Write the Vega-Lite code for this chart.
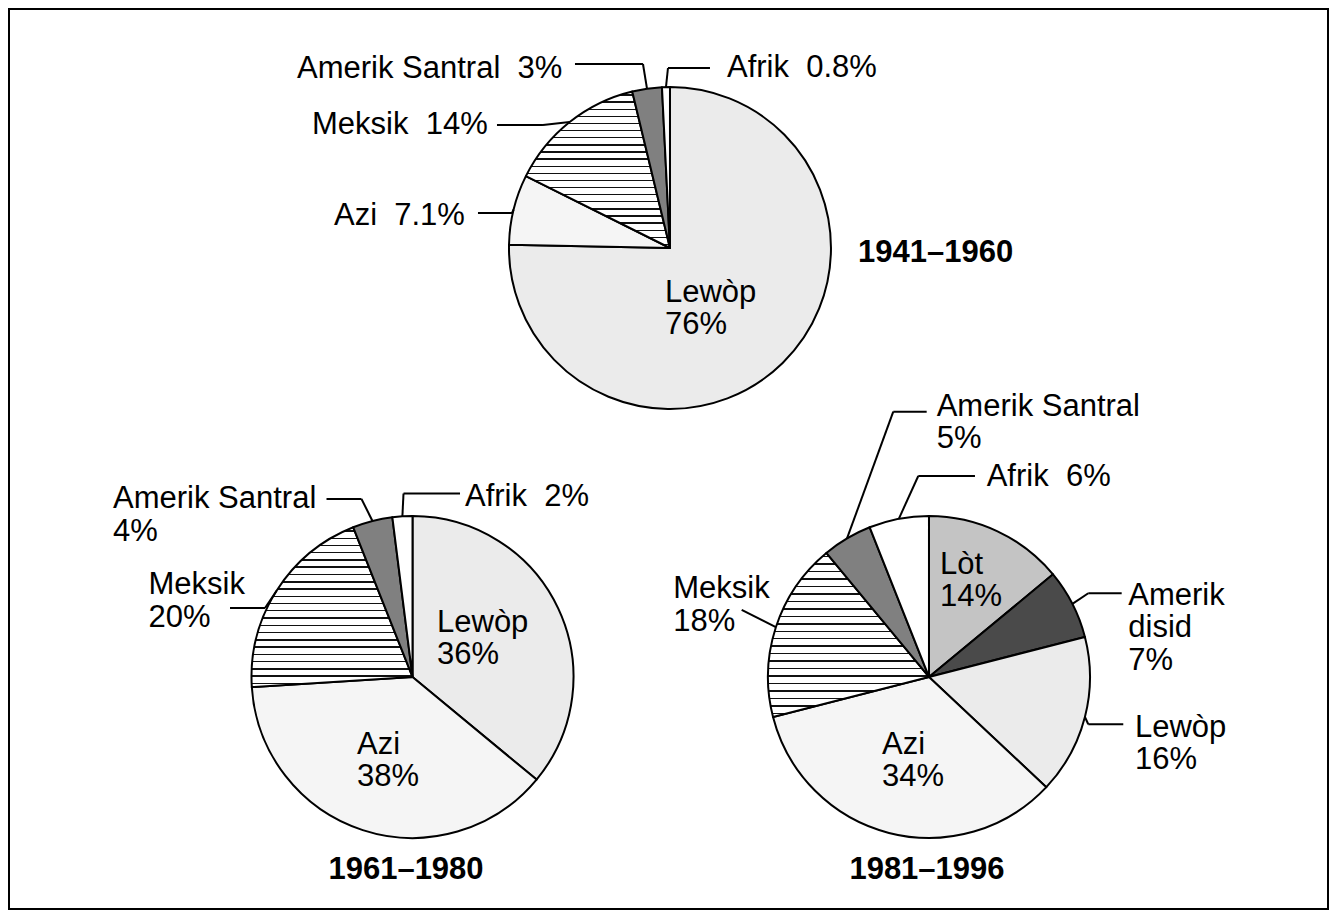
{
  "$schema": "https://vega.github.io/schema/vega-lite/v6.json",
  "width": 1319,
  "height": 900,
  "padding": 9,
  "autosize": {"type": "none"},
  "background": "white",
  "view": {"stroke": "black", "strokeWidth": 2},
  "params": [
    {"name": "stripes", "value": {"gradient": "linear", "x1": 0, "y1": 0, "x2": 0, "y2": 1, "stops": [
      {"offset": 0, "color": "#fff"},
      {"offset": 0.018, "color": "#fff"}, {"offset": 0.018, "color": "#111"}, {"offset": 0.027, "color": "#111"}, {"offset": 0.027, "color": "#fff"},
      {"offset": 0.064, "color": "#fff"}, {"offset": 0.064, "color": "#111"}, {"offset": 0.073, "color": "#111"}, {"offset": 0.073, "color": "#fff"},
      {"offset": 0.109, "color": "#fff"}, {"offset": 0.109, "color": "#111"}, {"offset": 0.118, "color": "#111"}, {"offset": 0.118, "color": "#fff"},
      {"offset": 0.154, "color": "#fff"}, {"offset": 0.154, "color": "#111"}, {"offset": 0.164, "color": "#111"}, {"offset": 0.164, "color": "#fff"},
      {"offset": 0.2, "color": "#fff"}, {"offset": 0.2, "color": "#111"}, {"offset": 0.209, "color": "#111"}, {"offset": 0.209, "color": "#fff"},
      {"offset": 0.245, "color": "#fff"}, {"offset": 0.245, "color": "#111"}, {"offset": 0.255, "color": "#111"}, {"offset": 0.255, "color": "#fff"},
      {"offset": 0.291, "color": "#fff"}, {"offset": 0.291, "color": "#111"}, {"offset": 0.3, "color": "#111"}, {"offset": 0.3, "color": "#fff"},
      {"offset": 0.336, "color": "#fff"}, {"offset": 0.336, "color": "#111"}, {"offset": 0.346, "color": "#111"}, {"offset": 0.346, "color": "#fff"},
      {"offset": 0.382, "color": "#fff"}, {"offset": 0.382, "color": "#111"}, {"offset": 0.391, "color": "#111"}, {"offset": 0.391, "color": "#fff"},
      {"offset": 0.427, "color": "#fff"}, {"offset": 0.427, "color": "#111"}, {"offset": 0.437, "color": "#111"}, {"offset": 0.437, "color": "#fff"},
      {"offset": 0.473, "color": "#fff"}, {"offset": 0.473, "color": "#111"}, {"offset": 0.482, "color": "#111"}, {"offset": 0.482, "color": "#fff"},
      {"offset": 0.518, "color": "#fff"}, {"offset": 0.518, "color": "#111"}, {"offset": 0.527, "color": "#111"}, {"offset": 0.527, "color": "#fff"},
      {"offset": 0.564, "color": "#fff"}, {"offset": 0.564, "color": "#111"}, {"offset": 0.573, "color": "#111"}, {"offset": 0.573, "color": "#fff"},
      {"offset": 0.609, "color": "#fff"}, {"offset": 0.609, "color": "#111"}, {"offset": 0.618, "color": "#111"}, {"offset": 0.618, "color": "#fff"},
      {"offset": 0.654, "color": "#fff"}, {"offset": 0.654, "color": "#111"}, {"offset": 0.664, "color": "#111"}, {"offset": 0.664, "color": "#fff"},
      {"offset": 0.7, "color": "#fff"}, {"offset": 0.7, "color": "#111"}, {"offset": 0.709, "color": "#111"}, {"offset": 0.709, "color": "#fff"},
      {"offset": 0.745, "color": "#fff"}, {"offset": 0.745, "color": "#111"}, {"offset": 0.755, "color": "#111"}, {"offset": 0.755, "color": "#fff"},
      {"offset": 0.791, "color": "#fff"}, {"offset": 0.791, "color": "#111"}, {"offset": 0.8, "color": "#111"}, {"offset": 0.8, "color": "#fff"},
      {"offset": 0.836, "color": "#fff"}, {"offset": 0.836, "color": "#111"}, {"offset": 0.846, "color": "#111"}, {"offset": 0.846, "color": "#fff"},
      {"offset": 0.882, "color": "#fff"}, {"offset": 0.882, "color": "#111"}, {"offset": 0.891, "color": "#111"}, {"offset": 0.891, "color": "#fff"},
      {"offset": 0.927, "color": "#fff"}, {"offset": 0.927, "color": "#111"}, {"offset": 0.937, "color": "#111"}, {"offset": 0.937, "color": "#fff"},
      {"offset": 0.973, "color": "#fff"}, {"offset": 0.973, "color": "#111"}, {"offset": 0.982, "color": "#111"}, {"offset": 0.982, "color": "#fff"},
      {"offset": 1, "color": "#fff"}
    ]}}
  ],
  "data": {"values": [
    {"period": "1941–1960", "cat": "Lewòp", "value": 76, "order": 1, "label": "Lewòp\n76%"},
    {"period": "1941–1960", "cat": "Azi", "value": 7.1, "order": 2, "label": "Azi\u00a0 7.1%"},
    {"period": "1941–1960", "cat": "Meksik", "value": 14, "order": 3, "label": "Meksik\u00a0 14%"},
    {"period": "1941–1960", "cat": "Amerik Santral", "value": 3, "order": 4, "label": "Amerik Santral\u00a0 3%"},
    {"period": "1941–1960", "cat": "Afrik", "value": 0.8, "order": 5, "label": "Afrik\u00a0 0.8%"},
    {"period": "1961–1980", "cat": "Lewòp", "value": 36, "order": 1, "label": "Lewòp\n36%"},
    {"period": "1961–1980", "cat": "Azi", "value": 38, "order": 2, "label": "Azi\n38%"},
    {"period": "1961–1980", "cat": "Meksik", "value": 20, "order": 3, "label": "Meksik\n20%"},
    {"period": "1961–1980", "cat": "Amerik Santral", "value": 4, "order": 4, "label": "Amerik Santral\n4%"},
    {"period": "1961–1980", "cat": "Afrik", "value": 2, "order": 5, "label": "Afrik\u00a0 2%"},
    {"period": "1981–1996", "cat": "Lòt", "value": 14, "order": 1, "label": "Lòt\n14%"},
    {"period": "1981–1996", "cat": "Amerik disid", "value": 7, "order": 2, "label": "Amerik\ndisid\n7%"},
    {"period": "1981–1996", "cat": "Lewòp", "value": 16, "order": 3, "label": "Lewòp\n16%"},
    {"period": "1981–1996", "cat": "Azi", "value": 34, "order": 4, "label": "Azi\n34%"},
    {"period": "1981–1996", "cat": "Meksik", "value": 18, "order": 5, "label": "Meksik\n18%"},
    {"period": "1981–1996", "cat": "Amerik Santral", "value": 5, "order": 6, "label": "Amerik Santral\n5%"},
    {"period": "1981–1996", "cat": "Afrik", "value": 6, "order": 7, "label": "Afrik\u00a0 6%"}
  ]},
  "transform": [
    {"stack": "value", "groupby": ["period"], "sort": [{"field": "order", "order": "ascending"}], "as": ["v0", "v1"], "offset": "normalize"}
  ],
  "layer": [
    {
      "transform": [{"filter": "datum.period === '1941–1960'"}],
      "encoding": {
        "x": {"field": "period", "type": "nominal", "axis": null, "scale": {"type": "band", "domain": ["1961–1980", "1941–1960", "1981–1996"], "paddingInner": 0, "paddingOuter": 1, "align": 0.5028}},
        "y": {"field": "period", "type": "nominal", "axis": null, "scale": {"type": "point", "domain": ["1941–1960", "1961–1980"], "padding": 0.549, "align": 0.5074}}
      },
      "layer": [
        {
          "mark": {"type": "arc", "outerRadius": 161, "stroke": "black", "strokeWidth": 2, "strokeJoin": "round"},
          "encoding": {
            "theta": {"field": "v0", "type": "quantitative", "scale": {"domain": [0, 1]}},
            "theta2": {"field": "v1"},
            "fill": {"condition": {"test": "datum.cat === 'Meksik'", "value": {"expr": "stripes"}}, "field": "cat", "type": "nominal", "legend": null,
              "scale": {"domain": ["Lewòp", "Azi", "Meksik", "Amerik Santral", "Afrik", "Lòt", "Amerik disid"], "range": ["#ebebeb", "#f5f5f5", "#ffffff", "#808080", "#ffffff", "#c4c4c4", "#4a4a4a"]}}
          }
        },
        {
          "transform": [{"filter": "datum.cat !== 'Lewòp'"}],
          "mark": {"type": "rule", "stroke": "black", "strokeWidth": 2,
            "xOffset": {"expr": "161*sin(PI*(datum.v0+datum.v1))"},
            "yOffset": {"expr": "-161*cos(PI*(datum.v0+datum.v1))"},
            "x2Offset": {"expr": "datum.cat==='Azi'?-158:datum.cat==='Meksik'?-127:datum.cat==='Amerik Santral'?-27:-2"},
            "y2Offset": {"expr": "datum.cat==='Azi'?-35:datum.cat==='Meksik'?-123:datum.cat==='Amerik Santral'?-184:-180"}},
          "encoding": {"x2": {"field": "period"}, "y2": {"field": "period"}}
        },
        {
          "transform": [{"filter": "datum.cat !== 'Lewòp'"}],
          "mark": {"type": "rule", "stroke": "black", "strokeWidth": 2,
            "xOffset": {"expr": "datum.cat==='Azi'?-158:datum.cat==='Meksik'?-127:datum.cat==='Amerik Santral'?-27:-2"},
            "yOffset": {"expr": "datum.cat==='Azi'?-35:datum.cat==='Meksik'?-123:datum.cat==='Amerik Santral'?-184:-180"},
            "x2Offset": {"expr": "datum.cat==='Azi'?-192:datum.cat==='Meksik'?-173:datum.cat==='Amerik Santral'?-95:40"},
            "y2Offset": {"expr": "datum.cat==='Azi'?-35:datum.cat==='Meksik'?-123:datum.cat==='Amerik Santral'?-184:-180"}},
          "encoding": {"x2": {"field": "period"}, "y2": {"field": "period"}}
        },
        {
          "mark": {"type": "text", "align": "left", "baseline": "middle", "fontSize": 31, "font": "Liberation Sans", "lineBreak": "\n", "lineHeight": 32.5, "color": "black",
            "xOffset": {"expr": "datum.cat==='Lewòp'?-5:datum.cat==='Azi'?-336:datum.cat==='Meksik'?-358:datum.cat==='Amerik Santral'?-373:57"},
            "yOffset": {"expr": "datum.cat==='Lewòp'?45:datum.cat==='Azi'?-32:datum.cat==='Meksik'?-123:datum.cat==='Amerik Santral'?-178.5:-180"}},
          "encoding": {"text": {"field": "label", "type": "nominal"}}
        },
        {
          "transform": [{"aggregate": [], "groupby": ["period"]}],
          "mark": {"type": "text", "align": "left", "baseline": "middle", "fontSize": 31, "fontWeight": "bold", "font": "Liberation Sans", "color": "black", "xOffset": 188, "yOffset": 5},
          "encoding": {"text": {"field": "period", "type": "nominal"}}
        }
      ]
    },
    {
      "transform": [{"filter": "datum.period === '1961–1980'"}],
      "encoding": {
        "x": {"field": "period", "type": "nominal", "axis": null, "scale": {"type": "band", "domain": ["1961–1980", "1941–1960", "1981–1996"], "paddingInner": 0, "paddingOuter": 1, "align": 0.5148}},
        "y": {"field": "period", "type": "nominal", "axis": null, "scale": {"type": "point", "domain": ["1941–1960", "1961–1980"], "padding": 0.549, "align": 0.5074}}
      },
      "layer": [
        {
          "mark": {"type": "arc", "outerRadius": 161, "stroke": "black", "strokeWidth": 2, "strokeJoin": "round"},
          "encoding": {
            "theta": {"field": "v0", "type": "quantitative", "scale": {"domain": [0, 1]}},
            "theta2": {"field": "v1"},
            "fill": {"condition": {"test": "datum.cat === 'Meksik'", "value": {"expr": "stripes"}}, "field": "cat", "type": "nominal", "legend": null,
              "scale": {"domain": ["Lewòp", "Azi", "Meksik", "Amerik Santral", "Afrik", "Lòt", "Amerik disid"], "range": ["#ebebeb", "#f5f5f5", "#ffffff", "#808080", "#ffffff", "#c4c4c4", "#4a4a4a"]}}
          }
        },
        {
          "transform": [{"filter": "datum.cat !== 'Lewòp' && datum.cat !== 'Azi'"}],
          "mark": {"type": "rule", "stroke": "black", "strokeWidth": 2,
            "xOffset": {"expr": "161*sin(PI*(datum.v0+datum.v1))"},
            "yOffset": {"expr": "-161*cos(PI*(datum.v0+datum.v1))"},
            "x2Offset": {"expr": "datum.cat==='Meksik'?-147.5:datum.cat==='Amerik Santral'?-51:-9"},
            "y2Offset": {"expr": "datum.cat==='Meksik'?-69:datum.cat==='Amerik Santral'?-178:-183.5"}},
          "encoding": {"x2": {"field": "period"}, "y2": {"field": "period"}}
        },
        {
          "transform": [{"filter": "datum.cat !== 'Lewòp' && datum.cat !== 'Azi'"}],
          "mark": {"type": "rule", "stroke": "black", "strokeWidth": 2,
            "xOffset": {"expr": "datum.cat==='Meksik'?-147.5:datum.cat==='Amerik Santral'?-51:-9"},
            "yOffset": {"expr": "datum.cat==='Meksik'?-69:datum.cat==='Amerik Santral'?-178:-183.5"},
            "x2Offset": {"expr": "datum.cat==='Meksik'?-182.5:datum.cat==='Amerik Santral'?-86:47.5"},
            "y2Offset": {"expr": "datum.cat==='Meksik'?-69:datum.cat==='Amerik Santral'?-178:-183.5"}},
          "encoding": {"x2": {"field": "period"}, "y2": {"field": "period"}}
        },
        {
          "mark": {"type": "text", "align": "left", "baseline": "middle", "fontSize": 31, "font": "Liberation Sans", "lineBreak": "\n", "lineHeight": 32.5, "color": "black",
            "xOffset": {"expr": "datum.cat==='Lewòp'?24.5:datum.cat==='Azi'?-55.5:datum.cat==='Meksik'?-264:datum.cat==='Amerik Santral'?-299.5:52.5"},
            "yOffset": {"expr": "datum.cat==='Lewòp'?-54:datum.cat==='Azi'?68:datum.cat==='Meksik'?-91.5:datum.cat==='Amerik Santral'?-177.5:-180"}},
          "encoding": {"text": {"field": "label", "type": "nominal"}}
        },
        {
          "transform": [{"aggregate": [], "groupby": ["period"]}],
          "mark": {"type": "text", "align": "center", "baseline": "middle", "fontSize": 31, "fontWeight": "bold", "font": "Liberation Sans", "color": "black", "xOffset": -6.5, "yOffset": 193},
          "encoding": {"text": {"field": "period", "type": "nominal"}}
        }
      ]
    },
    {
      "transform": [{"filter": "datum.period === '1981–1996'"}],
      "encoding": {
        "x": {"field": "period", "type": "nominal", "axis": null, "scale": {"type": "band", "domain": ["1961–1980", "1941–1960", "1981–1996"], "paddingInner": 0, "paddingOuter": 1, "align": 0.4937}},
        "y": {"field": "period", "type": "nominal", "axis": null, "scale": {"type": "point", "domain": ["1941–1960", "1981–1996"], "padding": 0.549, "align": 0.5074}}
      },
      "layer": [
        {
          "mark": {"type": "arc", "outerRadius": 161, "stroke": "black", "strokeWidth": 2, "strokeJoin": "round"},
          "encoding": {
            "theta": {"field": "v0", "type": "quantitative", "scale": {"domain": [0, 1]}},
            "theta2": {"field": "v1"},
            "fill": {"condition": {"test": "datum.cat === 'Meksik'", "value": {"expr": "stripes"}}, "field": "cat", "type": "nominal", "legend": null,
              "scale": {"domain": ["Lewòp", "Azi", "Meksik", "Amerik Santral", "Afrik", "Lòt", "Amerik disid"], "range": ["#ebebeb", "#f5f5f5", "#ffffff", "#808080", "#ffffff", "#c4c4c4", "#4a4a4a"]}}
          }
        },
        {
          "transform": [{"filter": "datum.cat !== 'Lòt' && datum.cat !== 'Azi'"}],
          "mark": {"type": "rule", "stroke": "black", "strokeWidth": 2,
            "xOffset": {"expr": "161*sin(PI*(datum.v0+datum.v1))"},
            "yOffset": {"expr": "-161*cos(PI*(datum.v0+datum.v1))"},
            "x2Offset": {"expr": "datum.cat==='Amerik disid'?159.3:datum.cat==='Lewòp'?159.3:datum.cat==='Meksik'?-187.3:datum.cat==='Amerik Santral'?-35.7:-10.7"},
            "y2Offset": {"expr": "datum.cat==='Amerik disid'?-83.7:datum.cat==='Lewòp'?47.3:datum.cat==='Meksik'?-67:datum.cat==='Amerik Santral'?-265.3:-201"}},
          "encoding": {"x2": {"field": "period"}, "y2": {"field": "period"}}
        },
        {
          "transform": [{"filter": "datum.cat !== 'Lòt' && datum.cat !== 'Azi' && datum.cat !== 'Meksik'"}],
          "mark": {"type": "rule", "stroke": "black", "strokeWidth": 2,
            "xOffset": {"expr": "datum.cat==='Amerik disid'?159.3:datum.cat==='Lewòp'?159.3:datum.cat==='Amerik Santral'?-35.7:-10.7"},
            "yOffset": {"expr": "datum.cat==='Amerik disid'?-83.7:datum.cat==='Lewòp'?47.3:datum.cat==='Amerik Santral'?-265.3:-201"},
            "x2Offset": {"expr": "datum.cat==='Amerik disid'?192.7:datum.cat==='Lewòp'?194.3:datum.cat==='Amerik Santral'?-2.3:46"},
            "y2Offset": {"expr": "datum.cat==='Amerik disid'?-83.7:datum.cat==='Lewòp'?47.3:datum.cat==='Amerik Santral'?-265.3:-201"}},
          "encoding": {"x2": {"field": "period"}, "y2": {"field": "period"}}
        },
        {
          "mark": {"type": "text", "align": "left", "baseline": "middle", "fontSize": 31, "font": "Liberation Sans", "lineBreak": "\n", "lineHeight": 32.5, "color": "black",
            "xOffset": {"expr": "datum.cat==='Lòt'?11:datum.cat==='Amerik disid'?199.3:datum.cat==='Lewòp'?206:datum.cat==='Azi'?-47:datum.cat==='Meksik'?-255.7:datum.cat==='Amerik Santral'?7.7:57.7"},
            "yOffset": {"expr": "datum.cat==='Lòt'?-112:datum.cat==='Amerik disid'?-81:datum.cat==='Lewòp'?51:datum.cat==='Azi'?68:datum.cat==='Meksik'?-87.5:datum.cat==='Amerik Santral'?-270:-200"}},
          "encoding": {"text": {"field": "label", "type": "nominal"}}
        },
        {
          "transform": [{"aggregate": [], "groupby": ["period"]}],
          "mark": {"type": "text", "align": "center", "baseline": "middle", "fontSize": 31, "fontWeight": "bold", "font": "Liberation Sans", "color": "black", "xOffset": -2, "yOffset": 193},
          "encoding": {"text": {"field": "period", "type": "nominal"}}
        }
      ]
    }
  ],
  "resolve": {"scale": {"x": "independent", "y": "independent"}}
}
